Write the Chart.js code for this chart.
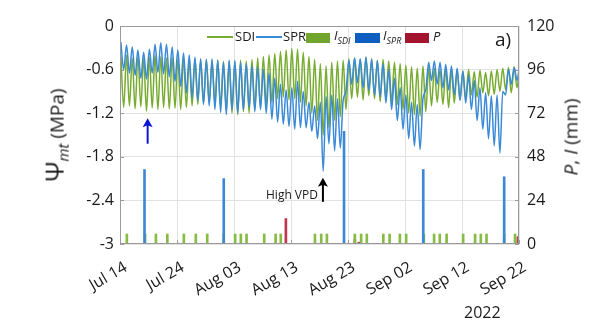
<!DOCTYPE html>
<html><head><meta charset="utf-8">
<script src="https://cdn.jsdelivr.net/npm/chart.js@4/dist/chart.umd.min.js"></script>
<style>
html,body{margin:0;padding:0;background:#fff;}
#wrap{position:relative;width:609px;height:333px;font-family:"Open Sans",sans-serif;color:#1a1a1a;overflow:hidden;}
canvas{position:absolute;left:0;top:0;}
.t{position:absolute;white-space:nowrap;line-height:1;}
.lg{position:absolute;}
</style></head><body>
<div id="wrap">
<canvas id="c" width="609" height="333"></canvas>
<div class="t" id="ylab" style="left:56px;top:135px;transform:translate(-50%,-50%) rotate(-90deg);font-size:19px;"><span style="font-size:25px">Ψ</span><sub style="font-size:15px;font-style:italic">mt</sub> (MPa)</div>
<div class="t" id="y2lab" style="left:571px;top:137px;transform:translate(-50%,-50%) rotate(-90deg);font-size:19px;"><i>P</i>, <i>I</i> (mm)</div>
<div class="lg" style="left:207px;top:36px;width:26px;height:1.5px;background:#77ac30"></div>
<div class="t" style="left:235px;top:30px;font-size:13px;">SDI</div>
<div class="lg" style="left:256px;top:36px;width:26px;height:1.5px;background:#3a8ad8"></div>
<div class="t" style="left:283px;top:30px;font-size:13px;">SPR</div>
<div class="lg" style="left:306px;top:33px;width:24px;height:10px;background:#72a52e"></div>
<div class="t" style="left:334px;top:29px;font-size:13px;"><i>I</i><sub style="font-size:9px;font-style:italic">SDI</sub></div>
<div class="lg" style="left:355px;top:33px;width:25px;height:10px;background:#0f5fc0"></div>
<div class="t" style="left:383px;top:29px;font-size:13px;"><i>I</i><sub style="font-size:9px;font-style:italic">SPR</sub></div>
<div class="lg" style="left:405px;top:33px;width:24px;height:10px;background:#a3142f"></div>
<div class="t" style="left:433px;top:30px;font-size:13px;font-style:italic">P</div>
<div class="t" style="left:495px;top:30px;font-size:19px;">a)</div>
<div class="t" style="left:266px;top:189px;font-size:12px;">High VPD</div>
<div class="t" style="left:464px;top:304px;font-size:16px;">2022</div>
</div>
<script>
// x axis: days since Jul 14, 2022
const xTickLabels = ['Jul 14','Jul 24','Aug 03','Aug 13','Aug 23','Sep 02','Sep 12','Sep 22'];
const yLeftTicks = ['-3','-2.4','-1.8','-1.2','-0.6','0'];
const yRightTicks = ['0','24','48','72','96','120'];

// daily predawn (max) and afternoon (min) stem water potential, MPa, day 0..70
const sdiMax = [-0.42,-0.40,-0.44,-0.41,-0.45,-0.43,-0.40,-0.42,-0.44,-0.43,
 -0.45,-0.44,-0.46,-0.45,-0.47,-0.46,-0.48,-0.47,-0.49,-0.48,
 -0.50,-0.47,-0.48,-0.46,-0.44,-0.42,-0.40,-0.38,-0.35,-0.33,
 -0.31,-0.32,-0.36,-0.42,-0.46,-0.52,-0.55,-0.50,-0.48,-0.47,
 -0.45,-0.44,-0.46,-0.43,-0.45,-0.47,-0.46,-0.48,-0.50,-0.52,
 -0.54,-0.56,-0.58,-0.55,-0.57,-0.58,-0.60,-0.59,-0.61,-0.60,
 -0.62,-0.60,-0.63,-0.61,-0.64,-0.62,-0.60,-0.58,-0.57,-0.56,-0.58];
const sdiMin = [-1.12,-1.10,-1.14,-1.11,-1.17,-1.13,-1.15,-1.12,-1.14,-1.13,
 -1.15,-1.12,-1.10,-1.08,-1.06,-1.05,-1.07,-1.10,-1.15,-1.20,
 -1.22,-1.18,-1.20,-1.15,-1.12,-1.10,-1.05,-1.00,-0.98,-1.02,
 -1.00,-1.05,-1.10,-1.20,-1.30,-1.50,-1.40,-1.30,-1.25,-1.15,
 -1.00,-0.98,-1.02,-0.96,-1.00,-1.04,-1.00,-1.05,-1.08,-1.15,
 -1.20,-1.22,-1.24,-1.18,-1.10,-1.05,-1.08,-1.12,-1.06,-1.02,
 -1.00,-0.95,-0.98,-0.92,-0.96,-0.94,-0.90,-0.88,-0.92,-0.85,-0.82];
const sprMax = [-0.22,-0.26,-0.29,-0.33,-0.36,-0.32,-0.25,-0.23,-0.25,-0.29,
 -0.33,-0.37,-0.40,-0.43,-0.45,-0.46,-0.45,-0.47,-0.50,-0.47,
 -0.47,-0.50,-0.52,-0.55,-0.57,-0.60,-0.65,-0.72,-0.80,-0.88,
 -0.85,-0.76,-0.90,-1.05,-1.10,-1.05,-0.97,-0.95,-1.00,-1.02,
 -0.47,-0.44,-0.45,-0.43,-0.46,-0.48,-0.52,-0.60,-0.72,-0.85,
 -0.95,-1.05,-1.08,-1.00,-0.50,-0.48,-0.50,-0.53,-0.55,-0.58,
 -0.62,-0.68,-0.75,-0.85,-0.92,-0.96,-0.95,-0.90,-0.60,-0.57,-0.55];
const sprMin = [-0.60,-0.65,-0.68,-0.72,-0.73,-0.65,-0.64,-0.66,-0.70,-0.76,
 -0.83,-0.92,-0.99,-1.03,-1.08,-1.10,-1.15,-1.19,-1.22,-1.15,
 -1.20,-1.15,-1.12,-1.18,-1.15,-1.20,-1.28,-1.32,-1.35,-1.38,
 -1.42,-1.40,-1.40,-1.45,-1.55,-2.00,-1.62,-1.72,-1.68,-0.90,
 -0.80,-0.78,-0.85,-0.88,-0.95,-0.97,-1.06,-1.15,-1.30,-1.42,
 -1.55,-1.65,-1.70,-0.88,-0.75,-0.80,-0.85,-0.88,-0.95,-1.02,
 -1.06,-1.15,-1.30,-1.42,-1.55,-1.65,-1.75,-0.95,-0.80,-0.75,-0.73];

// irrigation and precipitation events (day, mm)
const iSdiDay = [1.2,4.4,6.3,8.3,11.2,13.3,15.3,18.2,20.2,21.2,22.2,25.3,27.3,28.2,34.2,35.3,36.3,41.2,42.3,43.3,46.2,47.3,49.1,50.2,53.3,55.1,56.1,57.3,60.2,62.3,63.3,64.3,67.4,69.3];
const iSdiMm  = [5.5,5.5,5.5,5.5,5.5,5.5,5.5,5.5,5.5,5.5,5.5,5.5,5.5,5.5,5.5,5.5,5.5,5.5,5.5,5.5,5.5,5.5,5.5,5.5,5.5,5.5,5.5,5.5,5.5,5.5,5.5,5.5,5.5,5.5];
const iSprDay = [4.3,18.2,39.3,53.2,67.4];
const iSprMm  = [41,36,62,41,37];
const pDay = [29.1,41.2,41.9,69.8];
const pMm  = [14,2.7,1,4];

// annotation arrows (data coordinates: day, MPa)
const arrowBlue = {day:4.85, from:-1.62, to:-1.27};
const arrowBlack = {day:35.6, from:-2.42, to:-2.09};

const osc = (mx, mn) => {
  const out = [];
  for (let i = 0; i < mx.length; i++) {
    out.push({x: i + 0.15, y: mx[i]});
    out.push({x: i + 0.65, y: mn[i]});
  }
  return out;
};
const pairs = (d, v) => d.map((x, i) => ({x, y: v[i]}));

const deco = {
  id: 'deco',
  beforeDatasetsDraw(chart) {
    const {ctx, chartArea: a, scales: {x, y}} = chart;
    ctx.save();
    ctx.strokeStyle = '#9a9a9a'; ctx.lineWidth = 1;
    x.ticks.forEach(t => {
      const px = Math.round(x.getPixelForValue(t.value)) + 0.5;
      ctx.beginPath(); ctx.moveTo(px, a.bottom); ctx.lineTo(px, a.bottom - 4); ctx.stroke();
    });
    y.ticks.forEach(t => {
      const py = Math.round(y.getPixelForValue(t.value)) + 0.5;
      ctx.beginPath(); ctx.moveTo(a.left, py); ctx.lineTo(a.left + 4, py);
      ctx.moveTo(a.right, py); ctx.lineTo(a.right - 4, py); ctx.stroke();
    });
    ctx.restore();
  },
  afterDatasetsDraw(chart) {
    const {ctx, chartArea: a, scales: {x, y}} = chart;
    ctx.save();
    ctx.strokeStyle = '#9a9a9a'; ctx.lineWidth = 1;
    ctx.strokeRect(a.left + 0.5, a.top + 0.5, a.right - a.left - 1, a.bottom - a.top - 1);
    const arrow = (ar, col) => {
      const px = x.getPixelForValue(ar.day);
      const y0 = y.getPixelForValue(ar.from), y1 = y.getPixelForValue(ar.to);
      ctx.strokeStyle = col; ctx.fillStyle = col; ctx.lineWidth = 2;
      ctx.beginPath(); ctx.moveTo(px, y0); ctx.lineTo(px, y1 + 6); ctx.stroke();
      ctx.beginPath(); ctx.moveTo(px, y1); ctx.lineTo(px - 5, y1 + 9); ctx.lineTo(px, y1 + 7); ctx.lineTo(px + 5, y1 + 9); ctx.closePath(); ctx.fill();
    };
    arrow(arrowBlue, '#0a14d8');
    arrow(arrowBlack, '#000000');
    ctx.restore();
  }
};

const FONT = {family: '"Open Sans", sans-serif', size: 16};

new Chart(document.getElementById('c'), {
  type: 'bar',
  data: {
    datasets: [
      {type: 'line', label: 'SPR', data: osc(sprMax, sprMin), yAxisID: 'y', borderColor: '#3a8ad8', borderWidth: 1.5, pointRadius: 0, cubicInterpolationMode: 'monotone', order: 1},
      {type: 'line', label: 'SDI', data: osc(sdiMax, sdiMin), yAxisID: 'y', borderColor: '#77ac30', borderWidth: 1.5, pointRadius: 0, cubicInterpolationMode: 'monotone', order: 2},
      {type: 'bar', label: 'I_SPR', data: pairs(iSprDay, iSprMm), yAxisID: 'y2', backgroundColor: '#3c88d8', barThickness: 2, grouped: false, order: 3},
      {type: 'bar', label: 'I_SDI', data: pairs(iSdiDay, iSdiMm), yAxisID: 'y2', backgroundColor: '#86bb45', barThickness: 2, grouped: false, order: 4},
      {type: 'bar', label: 'P', data: pairs(pDay, pMm), yAxisID: 'y2', backgroundColor: '#c2354f', barThickness: 2, grouped: false, order: 5}
    ]
  },
  options: {
    responsive: false,
    animation: false,
    layout: {padding: {top: 26, left: 0, right: 0, bottom: 0}},
    plugins: {legend: {display: false}, tooltip: {enabled: false}},
    scales: {
      x: {
        type: 'linear', min: 0, max: 70, offset: false,
        grid: {color: '#e2e2e2', drawTicks: false, offset: false},
        border: {display: false},
        ticks: {stepSize: 10, autoSkip: false, minRotation: 30, maxRotation: 30, padding: 14, labelOffset: 6,
          color: '#1a1a1a', font: {family: FONT.family, size: 16},
          callback: (v, i) => xTickLabels[i]},
        afterFit: s => { s.height = 89; }
      },
      y: {
        type: 'linear', position: 'left', min: -3, max: 0,
        grid: {color: '#e2e2e2', drawTicks: false},
        border: {display: false},
        ticks: {stepSize: 0.6, padding: 6, color: '#1a1a1a', font: FONT, callback: (v, i) => yLeftTicks[i]},
        afterFit: s => { s.width = 120; }
      },
      y2: {
        type: 'linear', position: 'right', min: 0, max: 120,
        grid: {display: false, drawTicks: false},
        border: {display: false},
        ticks: {stepSize: 24, padding: 8, color: '#1a1a1a', font: FONT, callback: (v, i) => yRightTicks[i]},
        afterFit: s => { s.width = 90; }
      }
    }
  },
  plugins: [deco]
});
</script>
</body></html>
